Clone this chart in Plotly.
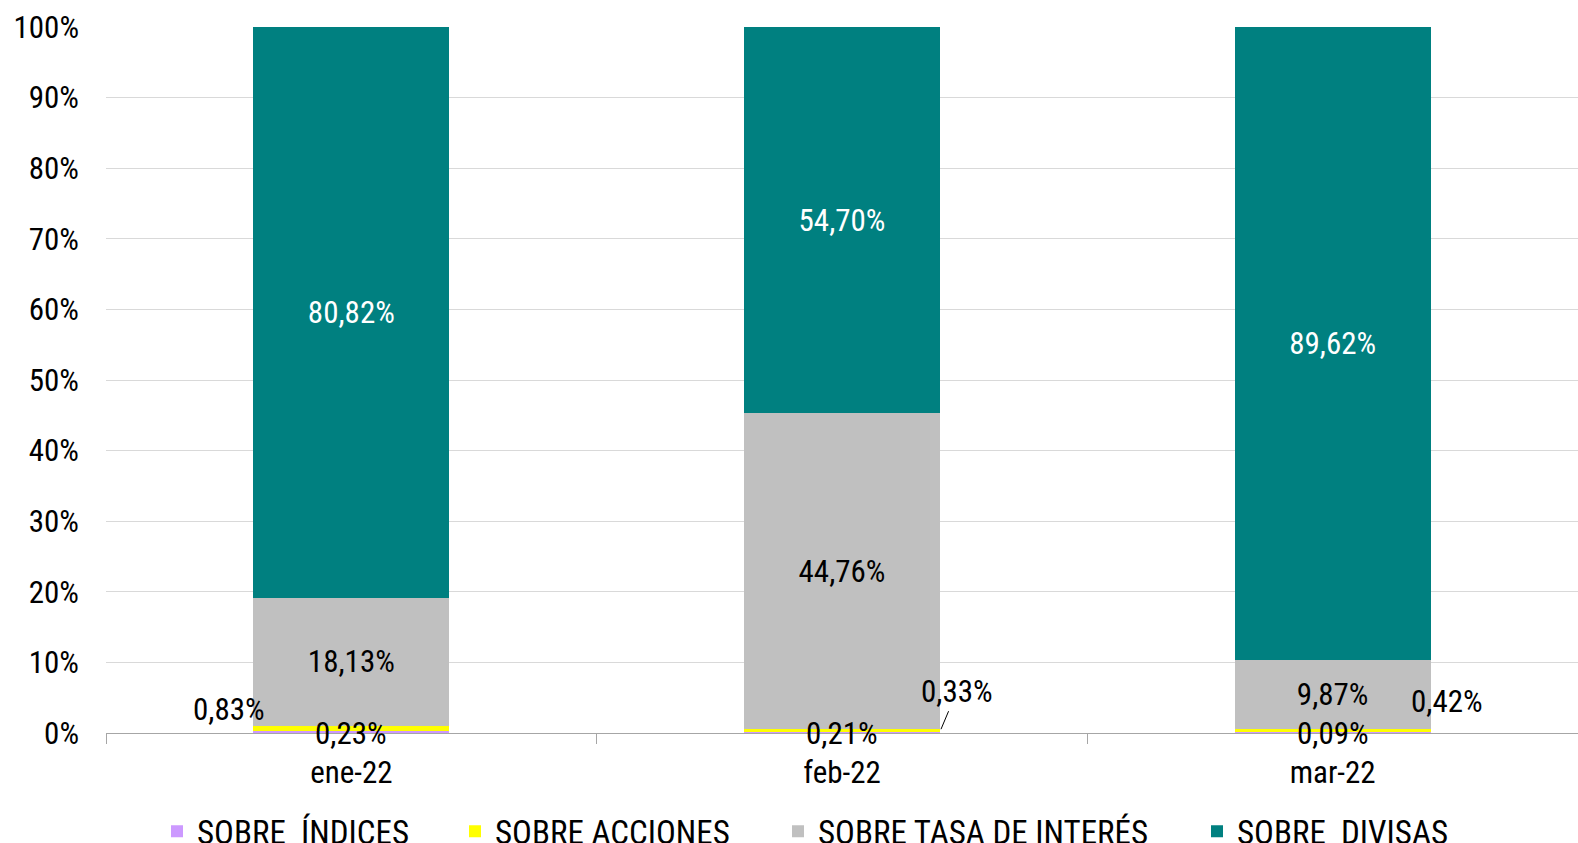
import plotly.graph_objects as go

categories = ["ene-22", "feb-22", "mar-22"]
indices = [0.23, 0.21, 0.09]
acciones = [0.83, 0.33, 0.42]
tasa = [18.13, 44.76, 9.87]
divisas = [80.82, 54.70, 89.62]
series_names = ["SOBRE  ÍNDICES", "SOBRE ACCIONES", "SOBRE TASA DE INTERÉS", "SOBRE  DIVISAS"]

FONT = "Liberation Sans Narrow, Arial Narrow, Roboto Condensed, Liberation Sans, sans-serif"
FS = 31
W, H = 1578, 843


def fmt(v):
    return f"{v:.2f}".replace(".", ",") + "%"


fig = go.Figure()
fig.add_bar(name=series_names[0], x=categories, y=indices, marker_color="#CC99FF",
            marker_line_width=0, legend="legend")
fig.add_bar(name=series_names[1], x=categories, y=acciones, marker_color="#FFFF00",
            marker_line_width=0, legend="legend2")
fig.add_bar(name=series_names[2], x=categories, y=tasa, marker_color="#C0C0C0",
            marker_line_width=0, text=[fmt(v) for v in tasa], textposition="inside",
            insidetextanchor="middle", textangle=0, legend="legend3",
            textfont=dict(color="black", size=FS, family=FONT))
fig.add_bar(name=series_names[3], x=categories, y=divisas, marker_color="#008080",
            marker_line_width=0, text=[fmt(v) for v in divisas], textposition="inside",
            insidetextanchor="middle", textangle=0, legend="legend4",
            textfont=dict(color="white", size=FS, family=FONT))

annfont = dict(size=FS, color="black", family=FONT)
for c, v in zip(categories, indices):
    fig.add_annotation(x=c, y=0, text=fmt(v), showarrow=False, yanchor="middle",
                       yshift=0, font=annfont)
fig.add_annotation(x=categories[0], y=3.3, text=fmt(acciones[0]), showarrow=False,
                   xshift=-122, font=annfont)
fig.add_annotation(x=categories[1], y=indices[1] + acciones[1], text=fmt(acciones[1]),
                   showarrow=True, arrowhead=0, arrowwidth=1, arrowcolor="black",
                   xshift=99, ax=16, ay=-38, font=annfont)
fig.add_annotation(x=categories[2], y=4.4, text=fmt(acciones[2]), showarrow=False,
                   xshift=114, font=annfont)

legend_common = dict(orientation="h", xref="container", yref="container",
                     xanchor="left", y=0.047, yanchor="top",
                     font=dict(size=33, family=FONT), bgcolor="rgba(0,0,0,0)")
leg_x = [157, 455, 778, 1197]

fig.update_layout(
    barmode="stack",
    bargap=0.6,
    width=W,
    height=H,
    margin=dict(l=106, r=0, t=27, b=110, autoexpand=False),
    paper_bgcolor="white",
    plot_bgcolor="white",
    separators=",.",
    font=dict(family=FONT, size=FS, color="black"),
    legend=dict(x=leg_x[0] / W, **legend_common),
    legend2=dict(x=leg_x[1] / W, **legend_common),
    legend3=dict(x=leg_x[2] / W, **legend_common),
    legend4=dict(x=leg_x[3] / W, **legend_common),
    showlegend=True,
)
fig.update_yaxes(range=[0, 100], dtick=10, ticksuffix="%", showgrid=True,
                 gridcolor="#D9D9D9", gridwidth=1, zeroline=False, showline=False,
                 tickfont=dict(size=FS, family=FONT), ticks="", fixedrange=True,
                 ticklabelstandoff=26, automargin=False)
fig.update_xaxes(showline=True, linecolor="#A6A6A6", linewidth=1, ticks="outside",
                 tickson="boundaries", ticklen=10, tickcolor="#A6A6A6",
                 ticklabelstandoff=12,
                 tickfont=dict(size=FS, family=FONT), showgrid=False, automargin=False)

fig.write_html(
    "out.html",
    config={"displayModeBar": False},
    post_script="document.body.style.margin='0';document.body.style.overflow='hidden';",
)
